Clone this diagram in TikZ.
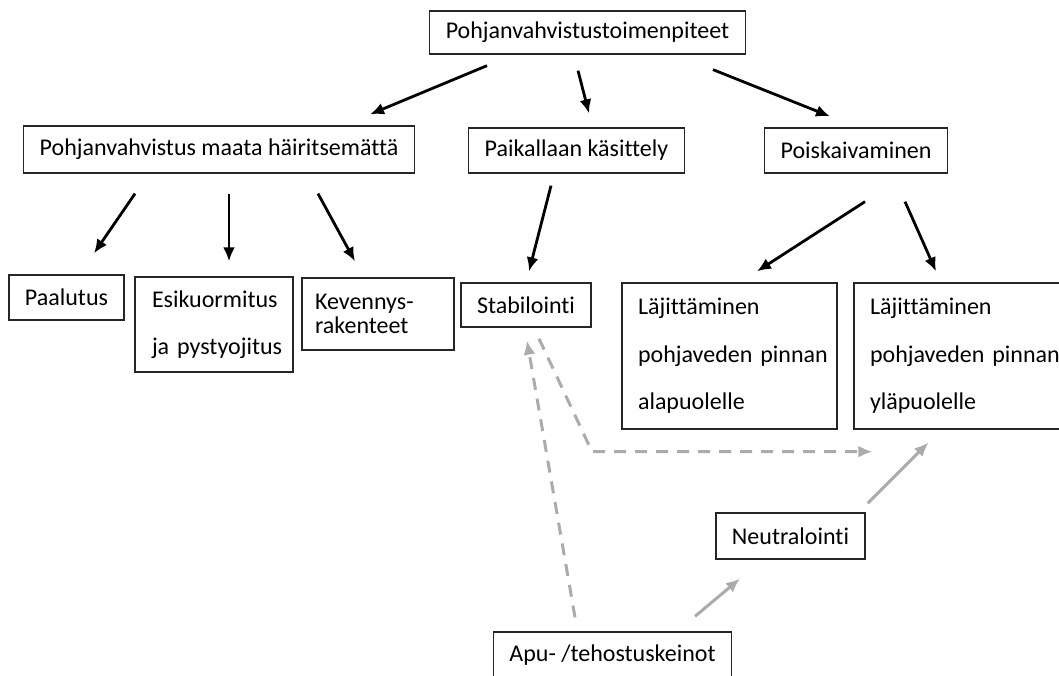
\documentclass[tikz,border=0pt]{standalone}
\usepackage{fontspec}
\setmainfont{Carlito}[Ligatures=NoCommon]
\usetikzlibrary{arrows.meta}
\newcommand{\txt}{\fontsize{24}{28}\selectfont}

\begin{document}
\begin{tikzpicture}[x=1pt,y=-1pt,
   box/.style={draw=black!85,line width=1.3pt,inner xsep=16pt,inner ysep=0pt,font=\txt},
   multibox/.style={box,align=left},
   arr/.style={-{Latex[length=14pt,width=12pt]},line width=2.8pt},
   grayarr/.style={-{Latex[length=14pt,width=12pt]},line width=3pt,draw=black!33,color=black!33},
   dasharr/.style={grayarr,dash pattern=on 12pt off 9pt}]
   \useasboundingbox (0,0) rectangle (1059,676);
   % boxes
   \node[box,minimum width=311pt,minimum height=43pt] (top)  at (587.5,32.5) {Pohjanvahvistustoimenpiteet};
   \node[box,minimum width=384pt,minimum height=47pt] (maata) at (219,149.5) {Pohjanvahvistus maata häiritsemättä};
   \node[box,minimum width=213pt,minimum height=45pt] (paik) at (576.5,150.5) {Paikallaan käsittely};
   \node[box,minimum width=180pt,minimum height=45pt] (pois) at (856,150.5) {Poiskaivaminen};
   \node[box,minimum width=113pt,minimum height=45pt] (paal) at (66.5,297.5) {Paalutus};
   \node[multibox,inner xsep=17pt,text width=124pt,minimum height=95pt,font=\fontsize{24}{47}\selectfont] (esik) at (214,324.5) {\mbox{Esikuormitus}\\\mbox{ja pystyojitus}};
   \node[multibox,inner xsep=13pt,text width=126pt,minimum height=72pt,font=\fontsize{24}{24.5}\selectfont] (keve) at (378,314) {\mbox{Kevennys-}\\\mbox{rakenteet}};
   \node[box,minimum width=128pt,minimum height=44pt] (stab) at (526,305) {Stabilointi};
   \node[multibox,text width=183pt,minimum height=146pt,font=\fontsize{24}{47.5}\selectfont] (lala) at (729.5,356) {\mbox{Läjittäminen}\\\mbox{pohjaveden pinnan}\\\mbox{alapuolelle}};
   \node[multibox,text width=189pt,minimum height=146pt,font=\fontsize{24}{47.5}\selectfont] (lyla) at (964.5,356) {\mbox{Läjittäminen}\\\mbox{pohjaveden pinnan}\\\mbox{yläpuolelle}};
   \node[box,minimum width=147pt,minimum height=46pt] (neut) at (790.5,536) {Neutralointi};
   \node[box,minimum width=233pt,minimum height=46pt] (apu)  at (612.5,655) {Apu- /tehostuskeinot};
   % black arrows
   \draw[arr] ([shift={(-100.5,11)}]top.south) -- ([shift={(151,-11)}]maata.north);
   \draw[arr] ([shift={(-9.5,16)}]top.south)   -- ([shift={(12.5,-14)}]paik.north);
   \draw[arr] ([shift={(125.5,15)}]top.south)  -- ([shift={(-26,-11)}]pois.north);
   \draw[arr] ([shift={(-84,20)}]maata.south)  -- ([shift={(27.5,-21)}]paal.north);
   \draw[arr] ([shift={(10,20)}]maata.south)   -- ([shift={(15,-15)}]esik.north);
   \draw[arr] ([shift={(99,20)}]maata.south)   -- ([shift={(-23,-16)}]keve.north);
   \draw[arr] ([shift={(-25.5,12)}]paik.south) -- ([shift={(3,-11)}]stab.north);
   \draw[arr] ([shift={(9,28)}]pois.south)     -- ([shift={(27.5,-11)}]lala.north);
   \draw[arr] ([shift={(49,28)}]pois.south)    -- ([shift={(-28.5,-11)}]lyla.north);
   % grey arrows
   \draw[dasharr] ([shift={(-37.5,-14)}]apu.north) -- ([shift={(1,13)}]stab.south);
   \draw[dasharr] ([shift={(13,11)}]stab.south) -- ([shift={(66,124)}]stab.south) -- ([shift={(19,22)}]lyla.south west);
   \draw[grayarr] ([shift={(82.5,-15)}]apu.north) -- ([shift={(-50.5,19)}]neut.south);
   \draw[grayarr] ([shift={(2,-9)}]neut.north east) -- ([shift={(75,13)}]lyla.south west);
\end{tikzpicture}
\end{document}
